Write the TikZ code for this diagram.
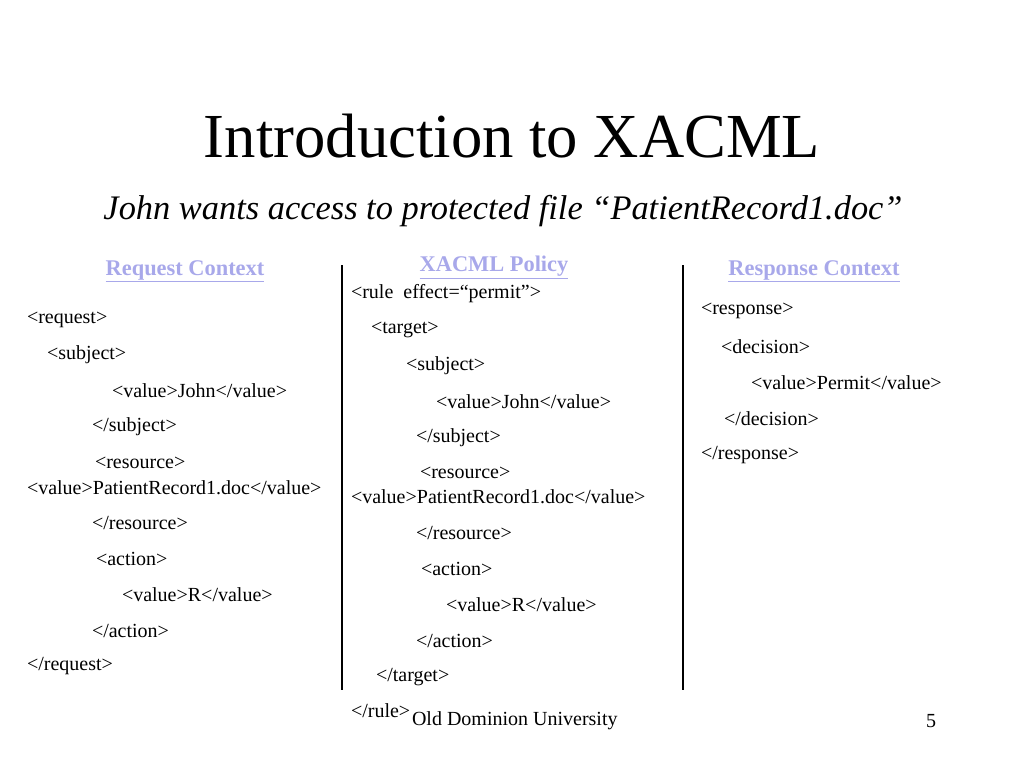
\documentclass[tikz,border=0pt]{standalone}
\usepackage{fontspec}
\setmainfont{Liberation Serif}
\usetikzlibrary{positioning}
\definecolor{headblue}{RGB}{168,168,234}
\tikzset{
    every node/.style={inner sep=0pt, outer sep=0pt},
    xml/.style={anchor=west, yshift=-2.2pt, font=\fontsize{15}{18}\selectfont},
    head/.style={yshift=-2.5pt, font=\fontsize{16.8}{19}\selectfont\bfseries, text=headblue},
    sep/.style={line width=0.9pt},
}

\begin{document}
\begin{tikzpicture}[x=0.75pt, y=-0.75pt]
    \useasboundingbox (0,0) rectangle (1024,768);

    % title
    \node[font=\fontsize{47}{52}\selectfont] (title) at (512,136) {Introduction to XACML};
    \node[font=\fontsize{25.8}{29}\selectfont\itshape] (sub) at (503,211) {John wants access to protected file “PatientRecord1.doc”};

    % column heads
    \node[head] (hreq) at (185,268) {\underline{Request Context}};
    \node[head] (hpol) at (494,264) {\underline{XACML Policy}};
    \node[head] (hres) at (814,268) {\underline{Response Context}};

    % separators
    \coordinate (s1a) at (342,265);
    \coordinate (s1b) at (342,690);
    \coordinate (s2a) at (683,265);
    \coordinate (s2b) at (683,690);
    \draw[sep] (s1a) -- (s1b);
    \draw[sep] (s2a) -- (s2b);

    % request
    \node[xml] (rq1) at (27,317) {<request>};
    \node[xml] (rq2) at (47,352) {<subject>};
    \node[xml] (rq3) at (112,388) {<value>John</value>};
    \node[xml] (rq4) at (92,424) {</subject>};
    \node[xml] (rq5) at (95,460) {<resource>};
    \node[xml] (rq6) at (27,485) {<value>PatientRecord1.doc</value>};
    \node[xml] (rq7) at (92,520) {</resource>};
    \node[xml] (rq8) at (96,556) {<action>};
    \node[xml] (rq9) at (122,592) {<value>R</value>};
    \node[xml] (rq10) at (92,628) {</action>};
    \node[xml] (rq11) at (27,663) {</request>};

    % policy
    \node[xml] (po1) at (351,291) {<rule\ \ effect=“permit”>};
    \node[xml] (po2) at (371,327) {<target>};
    \node[xml] (po3) at (406,363) {<subject>};
    \node[xml] (po4) at (436,399) {<value>John</value>};
    \node[xml] (po5) at (416,435) {</subject>};
    \node[xml] (po6) at (420,470) {<resource>};
    \node[xml] (po7) at (351,494) {<value>PatientRecord1.doc</value>};
    \node[xml] (po8) at (416,530) {</resource>};
    \node[xml] (po9) at (421,566) {<action>};
    \node[xml] (po10) at (446,602) {<value>R</value>};
    \node[xml] (po11) at (416,638) {</action>};
    \node[xml] (po12) at (376,674) {</target>};
    \node[xml] (po13) at (351,708) {</rule>};

    % response
    \node[xml] (rs1) at (701,308) {<response>};
    \node[xml] (rs2) at (721,344) {<decision>};
    \node[xml] (rs3) at (751,380) {<value>Permit</value>};
    \node[xml] (rs4) at (724,416) {</decision>};
    \node[xml] (rs5) at (701,452) {</response>};

    % footer
    \node[xml] (foot) at (412,718) {Old Dominion University};
    \node[xml] (page) at (926,718) {5};
\end{tikzpicture}
\end{document}
